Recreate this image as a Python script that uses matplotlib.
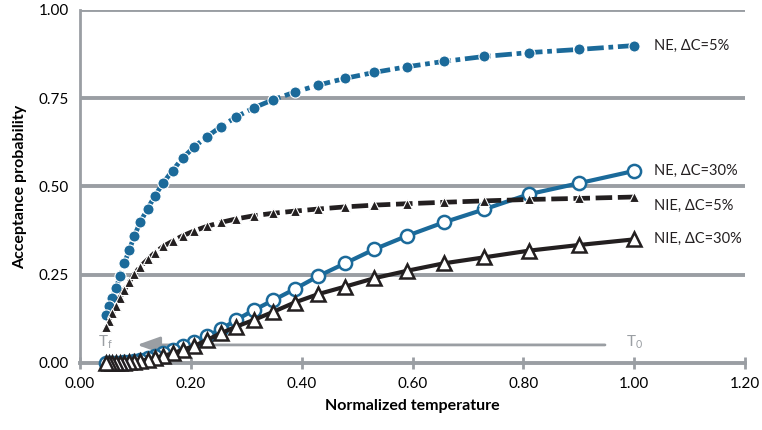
import matplotlib
matplotlib.use("Agg")
import matplotlib.pyplot as plt

plt.rcParams['font.family'] = ['Lato', 'DejaVu Sans']

# normalized temperature of each step (T0 = 1.0 down to Tf)
temps = [1.0, 0.9, 0.81, 0.729, 0.656, 0.59, 0.531, 0.478, 0.430, 0.387,
         0.349, 0.314, 0.282, 0.254, 0.229, 0.206, 0.185, 0.167, 0.150, 0.135,
         0.122, 0.109, 0.098, 0.089, 0.080, 0.072, 0.065, 0.058, 0.052, 0.047]

ne_5 = [0.899, 0.888, 0.879, 0.868, 0.854, 0.839, 0.823, 0.806, 0.787, 0.767,
        0.746, 0.723, 0.697, 0.669, 0.641, 0.612, 0.580, 0.545, 0.510, 0.473,
        0.437, 0.400, 0.360, 0.320, 0.283, 0.245, 0.212, 0.185, 0.160, 0.135]

nie_5 = [0.470, 0.466, 0.463, 0.459, 0.455, 0.451, 0.447, 0.442, 0.436, 0.430,
         0.424, 0.417, 0.408, 0.398, 0.387, 0.374, 0.360, 0.345, 0.330, 0.312,
         0.293, 0.273, 0.252, 0.230, 0.207, 0.185, 0.162, 0.140, 0.120, 0.103]

ne_30 = [0.544, 0.509, 0.478, 0.435, 0.398, 0.360, 0.322, 0.282, 0.246, 0.209,
         0.178, 0.150, 0.122, 0.095, 0.076, 0.060, 0.048, 0.037, 0.028, 0.020,
         0.014, 0.009, 0.006, 0.004, 0.002, 0.001, 0.001, 0.0, 0.0, 0.0]

nie_30 = [0.350, 0.334, 0.318, 0.299, 0.282, 0.261, 0.240, 0.216, 0.195, 0.171,
          0.145, 0.122, 0.103, 0.084, 0.065, 0.048, 0.037, 0.027, 0.020, 0.014,
          0.009, 0.006, 0.004, 0.002, 0.001, 0.001, 0.0, 0.0, 0.0, 0.0]

labels = ['NE, ΔC=5%', 'NE, ΔC=30%', 'NIE, ΔC=5%', 'NIE, ΔC=30%']

blue = '#1b6a9a'
black = '#231f20'
grey = '#9a9ea3'

fig = plt.figure(figsize=(7.62, 4.30), dpi=100)
ax = fig.add_axes([0.105, 0.156, 0.873, 0.821])

ax.plot(temps, ne_5, color=blue, lw=3.4, ls=(0, (3.5, 1, 1, 1)), marker='o',
        ms=8, mfc=blue, mec='white', mew=0.8, clip_on=False, zorder=3)
ax.plot(temps, ne_30, color=blue, lw=3.0, marker='o', ms=9.5, mfc='white',
        mec=blue, mew=1.8, clip_on=False, zorder=4)
ax.plot(temps, nie_5, color=black, lw=3.4, ls=(0, (3.5, 1.2)), marker='^',
        ms=7.5, mfc=black, mec='white', mew=0.8, clip_on=False, zorder=5)
ax.plot(temps, nie_30, color=black, lw=3.0, marker='^', ms=10, mfc='white',
        mec=black, mew=1.8, clip_on=False, zorder=6)

# series labels at the right end
label_y = [ne_5[0], ne_30[0], nie_5[0] - 0.025, nie_30[0]]
for txt, yv in zip(labels, label_y):
    ax.text(1.035, yv, txt, fontsize=10.5, color=black, va='center', ha='left')

# cooling direction arrow
ax.annotate('', xy=(0.098, 0.051), xytext=(0.952, 0.051),
            arrowprops=dict(arrowstyle='-|>,head_length=1.4,head_width=0.5',
                            color=grey, lw=2), zorder=2)
ax.text(0.045, 0.058, 'T$_\\mathregular{f}$', color=grey, fontsize=11,
        ha='center', va='center')
ax.text(1.0, 0.058, 'T$_\\mathregular{0}$', color=grey, fontsize=11,
        ha='center', va='center')

ax.set_xlim(0, 1.2)
ax.set_ylim(0, 1.0)
ax.set_xticks([0.0, 0.2, 0.4, 0.6, 0.8, 1.0, 1.2])
ax.set_xticklabels(['0.00', '0.20', '0.40', '0.60', '0.80', '1.00', '1.20'])
ax.set_yticks([0.0, 0.25, 0.5, 0.75, 1.0])
ax.set_yticklabels(['0.00', '0.25', '0.50', '0.75', '1.00'])
ax.tick_params(axis='x', direction='inout', length=8, width=2, color=grey,
               labelsize=11, pad=6)
ax.tick_params(axis='y', length=0, labelsize=11, pad=8)

for yv in [0.25, 0.5, 0.75, 1.0]:
    ax.axhline(yv, color=grey, lw=2.8, zorder=1)

for s in ['top', 'right']:
    ax.spines[s].set_visible(False)
ax.spines['left'].set_color(grey)
ax.spines['left'].set_linewidth(2)
ax.spines['bottom'].set_color(grey)
ax.spines['bottom'].set_linewidth(2.8)

ax.set_xlabel('Normalized temperature', fontsize=11.5, fontweight='bold',
              labelpad=6)
ax.set_ylabel('Acceptance probability', fontsize=11.5, fontweight='bold',
              labelpad=8)

fig.savefig('out.png', dpi=100)
